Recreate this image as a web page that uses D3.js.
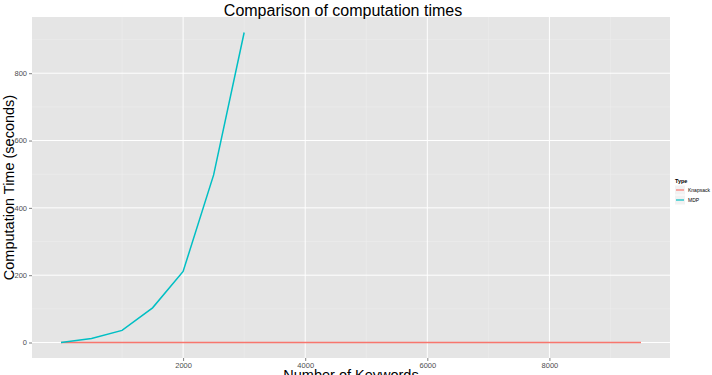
<!DOCTYPE html>
<html><head><meta charset="utf-8">
<script src="https://cdn.jsdelivr.net/npm/d3@7"></script>
<style>body{margin:0;background:#fff}svg{display:block;font-family:"Liberation Sans",Arial,sans-serif}</style>
</head><body>
<svg id="c" width="712" height="375"></svg>
<script>
const mdpX = [0, 500, 1000, 1500, 2000, 2500, 3000];
const mdpY = [0, 12, 36, 103, 211, 498, 921];
const knapX = [0, 500, 1000, 1500, 2000, 2500, 3000, 3500, 4000, 4500, 5000, 5500, 6000, 6500, 7000, 7500, 8000, 8500, 9000, 9500];
const knapY = [0, 0.02, 0.04, 0.06, 0.08, 0.1, 0.12, 0.14, 0.16, 0.18, 0.2, 0.22, 0.24, 0.26, 0.28, 0.3, 0.32, 0.34, 0.36, 0.38];
const xTicks = [2000, 4000, 6000, 8000];
const yTicks = [0, 200, 400, 600, 800];
const seriesNames = ["Knapsack", "MDP"];
const seriesColors = ["#F8766D", "#00BFC4"];

const svg = d3.select("#c");
const L = 32, R = 670, T = 17, B = 358;
const x = d3.scaleLinear().domain([-475, 9975]).range([L, R]);
const y = d3.scaleLinear().domain([-46, 967]).range([B, T]);

svg.append("rect").attr("x", L).attr("y", T).attr("width", R - L).attr("height", B - T).attr("fill", "#E5E5E5");

const g = svg.append("g");
const xMinor = [1000, 3000, 5000, 7000, 9000];
const yMinor = [100, 300, 500, 700, 900];
xMinor.forEach(v => g.append("line").attr("x1", x(v)).attr("x2", x(v)).attr("y1", T).attr("y2", B).attr("stroke", "#EEEEEE").attr("stroke-width", 0.5));
yMinor.forEach(v => g.append("line").attr("y1", y(v)).attr("y2", y(v)).attr("x1", L).attr("x2", R).attr("stroke", "#EEEEEE").attr("stroke-width", 0.5));
xTicks.forEach(v => g.append("line").attr("x1", x(v)).attr("x2", x(v)).attr("y1", T).attr("y2", B).attr("stroke", "#FFFFFF").attr("stroke-width", 1));
yTicks.forEach(v => g.append("line").attr("y1", y(v)).attr("y2", y(v)).attr("x1", L).attr("x2", R).attr("stroke", "#FFFFFF").attr("stroke-width", 1));

const line = d3.line().x(d => x(d[0])).y(d => y(d[1]));
svg.append("path").datum(knapX.map((v, i) => [v, knapY[i]])).attr("d", line)
  .attr("fill", "none").attr("stroke", seriesColors[0]).attr("stroke-width", 1.5);
svg.append("path").datum(mdpX.map((v, i) => [v, mdpY[i]])).attr("d", line)
  .attr("fill", "none").attr("stroke", seriesColors[1]).attr("stroke-width", 1.5);

const xAxis = svg.append("g").attr("transform", `translate(0,${B})`)
  .call(d3.axisBottom(x).tickValues(xTicks).tickSize(3).tickPadding(2).tickFormat(d3.format("d")));
const yAxis = svg.append("g").attr("transform", `translate(${L},0)`)
  .call(d3.axisLeft(y).tickValues(yTicks).tickSize(3).tickPadding(2).tickFormat(d3.format("d")));
[xAxis, yAxis].forEach(a => {
  a.select(".domain").remove();
  a.selectAll(".tick line").attr("stroke", "#7F7F7F");
  a.selectAll(".tick text").attr("fill", "#4D4D4D").attr("font-size", 7.5)
    .attr("font-family", "Liberation Sans, Arial, sans-serif");
});

svg.append("text").attr("x", 343).attr("y", 16).attr("text-anchor", "middle")
  .attr("font-size", 16).attr("fill", "#000").text("Comparison of computation times");
svg.append("text").attr("x", (L + R) / 2).attr("y", 380).attr("text-anchor", "middle")
  .attr("font-size", 14.5).attr("fill", "#000").text("Number of Keywords");
svg.append("text").attr("transform", `translate(14,${(T + B) / 2}) rotate(-90)`).attr("text-anchor", "middle")
  .attr("font-size", 14.5).attr("fill", "#000").text("Computation Time (seconds)");

const lg = svg.append("g").attr("transform", "translate(675,0)");
lg.append("text").attr("x", 0).attr("y", 183).attr("font-size", 5.5).attr("font-weight", "bold").text("Type");
seriesNames.forEach((n, i) => {
  const yy = 190 + i * 10;
  lg.append("rect").attr("x", 0).attr("y", yy - 4.5).attr("width", 10).attr("height", 9).attr("fill", "#F2F2F2");
  lg.append("line").attr("x1", 1).attr("x2", 9).attr("y1", yy).attr("y2", yy).attr("stroke", seriesColors[i]).attr("stroke-width", 1.2);
  lg.append("text").attr("x", 13).attr("y", yy + 2).attr("font-size", 5).attr("fill", "#000").text(n);
});
</script>
</body></html>
